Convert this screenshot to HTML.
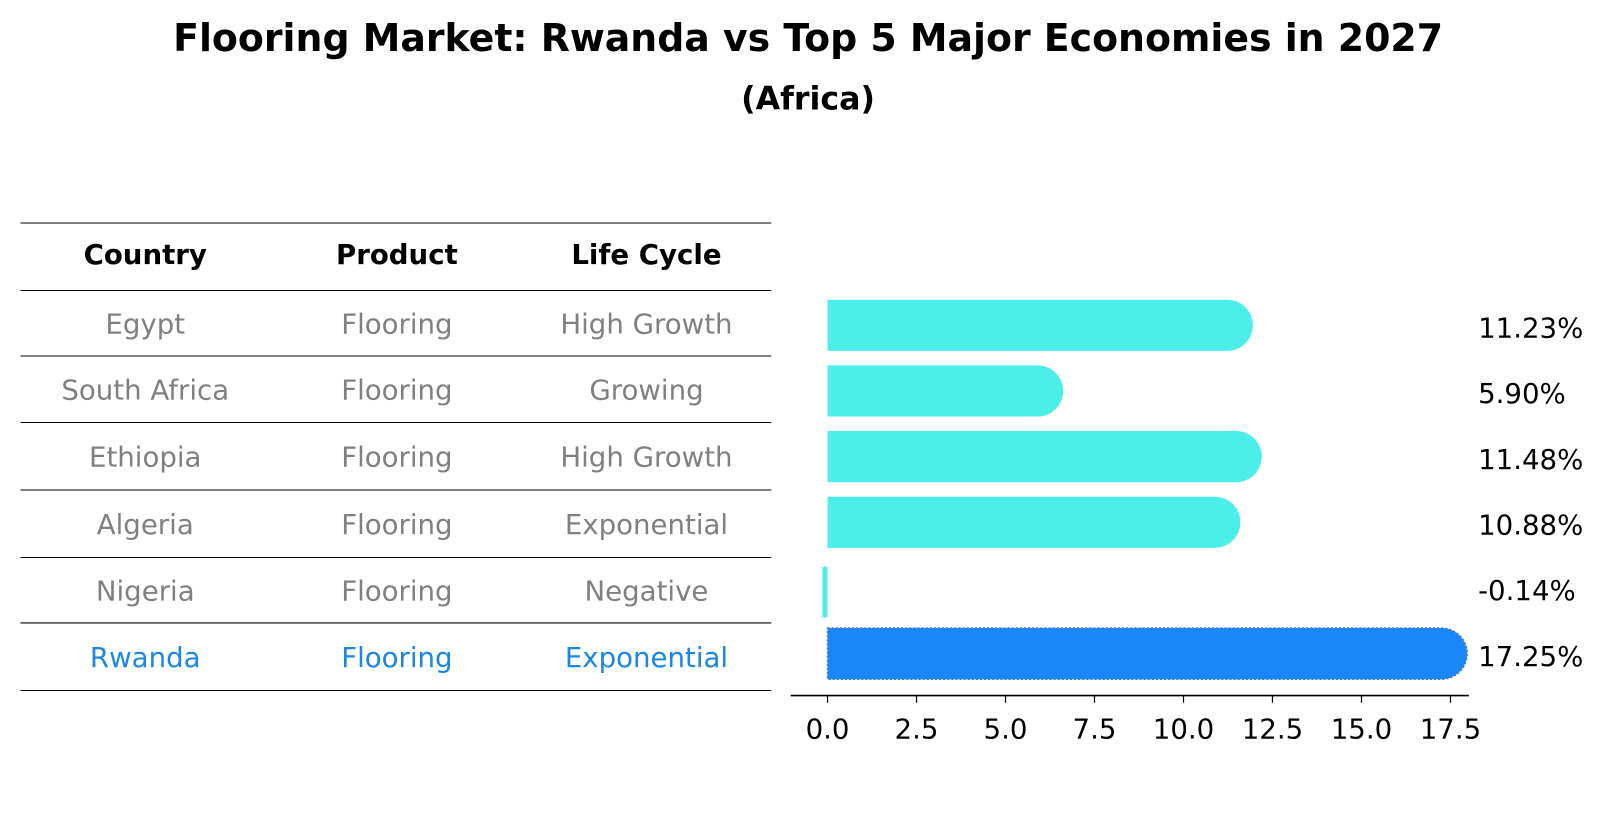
<!DOCTYPE html>
<html><head><meta charset="utf-8"><style>
html,body{margin:0;padding:0;background:#fff;}
svg{display:block;font-family:"DejaVu Sans","Liberation Sans",sans-serif;}
</style></head><body>
<svg id="chart" width="1604" height="823" viewBox="0 0 1604 823" xmlns="http://www.w3.org/2000/svg">
<g transform="scale(1.0229)">
<text x="790" y="50" text-anchor="middle" font-size="37" font-weight="bold">Flooring Market: Rwanda vs Top 5 Major Economies in 2027</text>
<text x="790" y="107" text-anchor="middle" font-size="31" font-weight="bold">(Africa)</text>
<g id="table"></g>
<g id="bars"></g>
</g>
</svg>
<script>
const countries = ["Egypt","South Africa","Ethiopia","Algeria","Nigeria","Rwanda"];
const products = ["Flooring","Flooring","Flooring","Flooring","Flooring","Flooring"];
const lifeCycles = ["High Growth","Growing","High Growth","Exponential","Negative","Exponential"];
const growth = [11.23,5.90,11.48,10.88,-0.14,17.25];
const tickValues = [0,2.5,5,7.5,10,12.5,15,17.5];
const highlight = "Rwanda";

const NS="http://www.w3.org/2000/svg";
function mk(tag,attrs,parent){const e=document.createElementNS(NS,tag);for(const k in attrs)e.setAttribute(k,attrs[k]);parent.appendChild(e);return e;}

// table
const tbl=document.getElementById('table');
const rowYs=[218,284,348,413,479,545,609,675];
const colX=[142,388,632];
rowYs.forEach((y,i)=>{
  const l=mk('line',{x1:20,x2:754,y1:y,y2:y,stroke:'#000','stroke-width':1},tbl);
  
  
});
["Country","Product","Life Cycle"].forEach((h,j)=>{
  const t=mk('text',{x:colX[j],y:258,'text-anchor':'middle','font-size':27,'font-weight':'bold'},tbl);
  t.textContent=h;
  
  
});
countries.forEach((c,i)=>{
  const cy=(rowYs[i+1]+rowYs[i+2])/2+10;
  const col=c===highlight?'#1a86e8':'#808080';
  [c,products[i],lifeCycles[i]].forEach((v,j)=>{
    const t=mk('text',{x:colX[j],y:cy,'text-anchor':'middle','font-size':27,fill:col},tbl);
    t.textContent=v;
    
    
  });
});

// bars
const g=document.getElementById('bars');
const x0=809, pxPer=(1418-809)/17.5;
const xs=v=>x0+v*pxPer;
const barTop0=293, step=64.2, bh=50, r=25;
growth.forEach((v,i)=>{
  const top=barTop0+i*step;
  const hl=countries[i]===highlight;
  const fill=hl?'#1a86f8':'#4ceee9';
  let el;
  if(v>=0){
    const xe=xs(v);
    const d=`M${x0},${top} L${xe},${top} A${r},${r} 0 0 1 ${xe},${top+bh} L${x0},${top+bh} Z`;
    el=mk('path',{d:d,fill:fill},g);
    if(hl){el.setAttribute('stroke','#3a7fd0');el.setAttribute('stroke-width','1.5');el.setAttribute('stroke-dasharray','2 2');}
  } else {
    const xe=xs(v);
    el=mk('rect',{x:Math.min(xe,x0-4),y:top+4,width:Math.max(4,x0-xe),height:bh,fill:fill,rx:2},g);
  }
  
  
  const t=mk('text',{x:1445,y:top+bh/2+12,'font-size':27},g);
  t.textContent=v.toFixed(2)+'%';
  
  
});
const ax=mk('line',{x1:773,x2:1436,y1:680,y2:680,stroke:'#000','stroke-width':1.5},g);


tickValues.forEach(v=>{
  const tk=mk('line',{x1:xs(v),x2:xs(v),y1:680,y2:687,stroke:'#000','stroke-width':1.2},g);
  
  
  const t=mk('text',{x:xs(v),y:722,'text-anchor':'middle','font-size':27},g);
  t.textContent=v.toFixed(1);
  
  
});
</script>
</body></html>
